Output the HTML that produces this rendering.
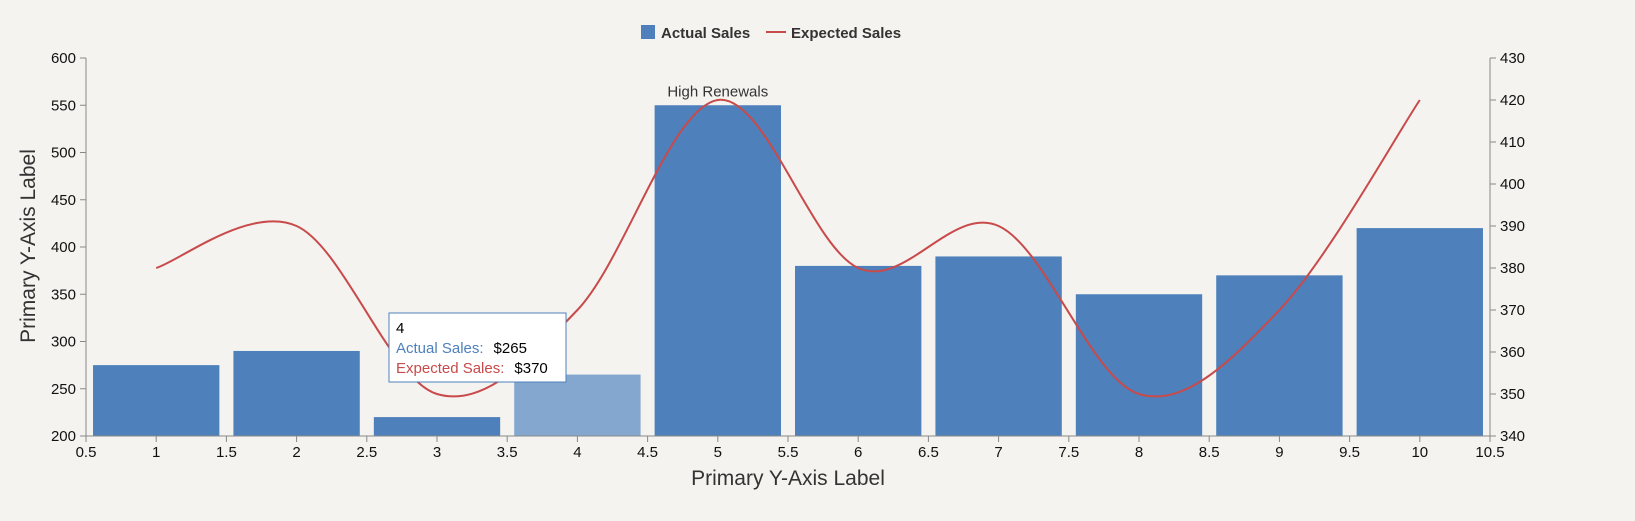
<!DOCTYPE html>
<html><head><meta charset="utf-8"><style>
body{margin:0;background:#f4f3f0;}
svg{display:block;font-family:"Liberation Sans",sans-serif;}
</style></head><body>
<svg id="chart" width="1635" height="521" viewBox="0 0 1635 521">
<rect width="1635" height="521" fill="#f4f3f0"/>
<g id="legend">
<g><rect x="641" y="25" width="14" height="14" fill="#4e80bc"/><text x="661" y="38" font-size="15" font-weight="bold" fill="#333">Actual Sales</text></g>
<g><line x1="766" y1="32" x2="786" y2="32" stroke="#c84a4a" stroke-width="2"/><text x="791" y="38" font-size="15" font-weight="bold" fill="#333">Expected Sales</text></g>
</g>
<g id="bars"></g><g id="line"></g><g id="axes"></g>
<g>
<rect x="389" y="313" width="177" height="69" fill="#fff" stroke="#4e80bc" stroke-width="1"/>
<text x="396" y="333" font-size="15" fill="#000">4</text>
<text x="396" y="353" font-size="15" fill="#4e80bc">Actual Sales:<tspan fill="#000" dx="10">$265</tspan></text>
<text x="396" y="373" font-size="15" fill="#c84a4a">Expected Sales:<tspan fill="#000" dx="10">$370</tspan></text>
</g>
</svg>
<script>
const categories=[1,2,3,4,5,6,7,8,9,10];
const actualSales=[275,290,220,265,550,380,390,350,370,420];
const expectedSales=[380,390,350,370,420,380,390,350,370,420];
const leftTicks=[200,250,300,350,400,450,500,550,600];
const rightTicks=[340,350,360,370,380,390,400,410,420,430];
const xTicks=[0.5,1,1.5,2,2.5,3,3.5,4,4.5,5,5.5,6,6.5,7,7.5,8,8.5,9,9.5,10,10.5];
const NS="http://www.w3.org/2000/svg";
const X0=86,X1=1490,YT=58,YB=436;
const x=v=>X0+(v-0.5)/10*(X1-X0);
const yl=v=>YB-(v-200)/400*(YB-YT);
const yr=v=>YB-(v-340)/90*(YB-YT);
function mk(t,a,p){const e=document.createElementNS(NS,t);for(const k in a)e.setAttribute(k,a[k]);p.appendChild(e);return e;}
const bars=document.getElementById('bars');
const bw=(X1-X0)/10*0.9;
categories.forEach((c,i)=>{
 const r=mk('rect',{x:x(c)-bw/2,y:yl(actualSales[i]),width:bw,height:YB-yl(actualSales[i]),fill:c===4?'#83a7cf':'#4e80bc'},bars);
 
 
});
const imax=actualSales.indexOf(Math.max(...actualSales));
const ann=mk('text',{x:x(categories[imax]),y:yl(actualSales[imax])-9,'text-anchor':'middle','font-size':'15',fill:'#333'},bars);
ann.textContent='High Renewals';


// catmull-rom line
const pts=categories.map((c,i)=>[x(c),yr(expectedSales[i])]);
let d='M'+pts[0][0]+','+pts[0][1];
for(let i=0;i<pts.length-1;i++){
 const p0=pts[Math.max(i-1,0)],p1=pts[i],p2=pts[i+1],p3=pts[Math.min(i+2,pts.length-1)];
 const c1=[p1[0]+(p2[0]-p0[0])/6,p1[1]+(p2[1]-p0[1])/6];
 const c2=[p2[0]-(p3[0]-p1[0])/6,p2[1]-(p3[1]-p1[1])/6];
 d+='C'+c1+' '+c2+' '+p2;
}
const ln=mk('path',{d:d,fill:'none',stroke:'#c84a4a','stroke-width':2},document.getElementById('line'));


const ax=document.getElementById('axes');
const st={stroke:'#888','stroke-width':1};
mk('line',Object.assign({x1:X0,y1:YT,x2:X0,y2:YB},st),ax);
mk('line',Object.assign({x1:X1,y1:YT,x2:X1,y2:YB},st),ax);
mk('line',Object.assign({x1:X0,y1:YB,x2:X1,y2:YB},st),ax);
leftTicks.forEach(v=>{mk('line',Object.assign({x1:X0-6,y1:yl(v),x2:X0,y2:yl(v)},st),ax);
 const t=mk('text',{x:X0-10,y:yl(v)+5,'text-anchor':'end','font-size':'15',fill:'#111'},ax);t.textContent=v;
 });
rightTicks.forEach(v=>{mk('line',Object.assign({x1:X1,y1:yr(v),x2:X1+6,y2:yr(v)},st),ax);
 const t=mk('text',{x:X1+10,y:yr(v)+5,'font-size':'15',fill:'#111'},ax);t.textContent=v;
 });
xTicks.forEach(v=>{mk('line',Object.assign({x1:x(v),y1:YB,x2:x(v),y2:YB+6},st),ax);
 const t=mk('text',{x:x(v),y:YB+21,'text-anchor':'middle','font-size':'15',fill:'#111'},ax);t.textContent=v;
 });
const yt=mk('text',{x:0,y:0,transform:'translate(35,246) rotate(-90)','text-anchor':'middle','font-size':'21',fill:'#333'},ax);
yt.textContent='Primary Y-Axis Label';
const xt=mk('text',{x:788,y:485,'text-anchor':'middle','font-size':'21',fill:'#333'},ax);
xt.textContent='Primary Y-Axis Label';
</script>
</body></html>
